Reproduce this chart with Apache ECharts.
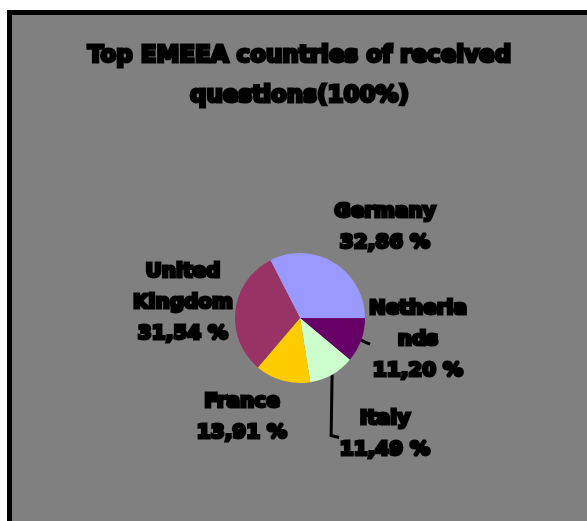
<!DOCTYPE html>
<html>
<head>
<meta charset="utf-8">
<script src="https://cdn.jsdelivr.net/npm/echarts@6/dist/echarts.min.js"></script>
<style>
  html, body { margin: 0; padding: 0; background: #ffffff; width: 587px; height: 521px; overflow: hidden; }
  #frame { position: absolute; left: 7px; top: 10px; border-top: 5px solid #000; border-left: 5px solid #000; background: #808080; }
  #chart { width: 575px; height: 506px; }
</style>
</head>
<body>
<div id="frame"><div id="chart"></div></div>
<script>
const titleLines = ['Top EMEEA countries of received', 'questions(100%)'];
const categories = ['Germany', 'Netherlands', 'Italy', 'France', 'United Kingdom'];
const labelNames = ['Germany', 'Netherla\nnds', 'Italy', 'France', 'United\nKingdom'];
const values = [32.86, 11.20, 11.49, 13.91, 31.54];
const colors = ['#9999FF', '#660066', '#CCFFCC', '#FFCC00', '#993366'];

// label anchor positions (chart pixel coords), layout only
const labelPos = [[373, 212], [406, 325], [373, 419], [230, 402], [171, 288]];
const showLine = [false, true, true, false, false];

const total = values.reduce((a, b) => a + b, 0);
const startAngle = 90 + (values[0] / total * 360 - 90);

const chart = echarts.init(document.getElementById('chart'), null, { renderer: 'canvas' });
const font = 'DejaVu Sans';

chart.setOption({
  backgroundColor: '#808080',
  title: {
    text: titleLines.join('\n'),
    left: 'center',
    top: 16,
    textStyle: {
      fontFamily: font, fontWeight: 'bold', fontSize: 23, lineHeight: 40,
      color: '#000', textBorderColor: '#000', textBorderWidth: 3
    }
  },
  animation: false,
  series: [{
    type: 'pie',
    center: [288, 303],
    radius: [0, 65],
    startAngle: startAngle,
    clockwise: true,
    avoidLabelOverlap: false,
    itemStyle: { borderWidth: 0 },
    label: {
      show: true,
      position: 'outside',
      fontFamily: font,
      fontWeight: 'bold',
      fontSize: 20,
      lineHeight: 31,
      color: '#000',
      textBorderColor: '#000',
      textBorderWidth: 3,
      align: 'center',
      formatter: p => labelNames[p.dataIndex] + '\n' + p.value.toFixed(2).replace('.', ',') + ' %'
    },
    labelLine: { show: true, lineStyle: { color: '#000', width: 3 }, length: 5, length2: 5 },
    labelLayout: function (params) {
      const i = params.dataIndex;
      const out = { x: labelPos[i][0], y: labelPos[i][1], align: 'center', verticalAlign: 'middle' };
      const p0 = params.labelLinePoints ? params.labelLinePoints[0] : null;
      if (!showLine[i] || !p0) {
        out.labelLinePoints = p0 ? [p0, p0, p0] : undefined;
      } else if (i === 1) {
        out.labelLinePoints = [p0, [p0[0] + 4, p0[1] + 2], [p0[0] + 9, p0[1] + 4]];
      } else if (i === 2) {
        out.labelLinePoints = [p0, [p0[0] - 1, p0[1] + 61], [p0[0] + 7, p0[1] + 63]];
      }
      return out;
    },
    data: categories.map((c, i) => ({
      name: c,
      value: values[i],
      itemStyle: { color: colors[i] },
      labelLine: { show: showLine[i] }
    }))
  }]
});
</script>
</body>
</html>
